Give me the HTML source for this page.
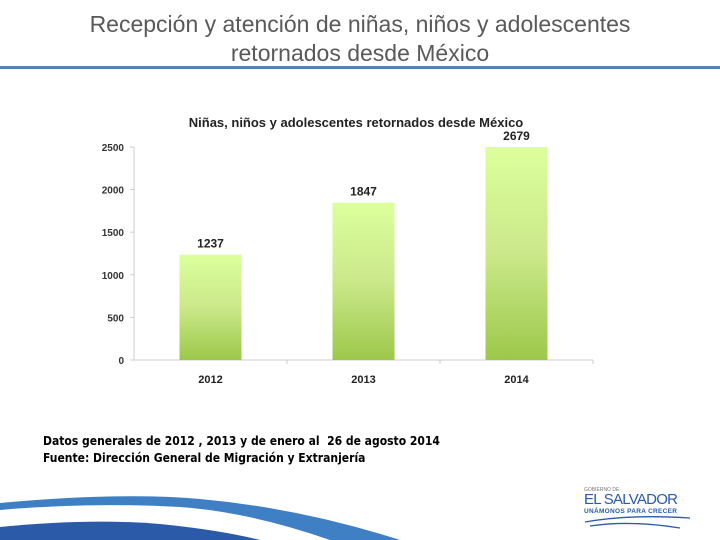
<!DOCTYPE html>
<html><head><meta charset="utf-8"><style>
body{margin:0;width:720px;height:540px;background:#fff;overflow:hidden;position:relative;font-family:"Liberation Sans",sans-serif}
#title{position:absolute;left:0;top:10px;width:720px;text-align:center;font-size:23px;line-height:29px;color:#595959}
#rule{position:absolute;left:0;top:66px;width:720px;height:3px;background:#5a7fb0}
#note{position:absolute;left:43px;top:433px;font-size:12px;line-height:17px;color:#000;font-weight:bold;font-family:"Liberation Sans Narrow","DejaVu Sans Condensed","Liberation Sans",sans-serif}
</style></head><body>
<div id="title">Recepción y atención de niñas, niños y adolescentes<br>retornados desde México</div>
<div id="rule"></div>
<svg id="chart" width="720" height="540" style="position:absolute;left:0;top:0">
<defs><linearGradient id="g" x1="0" y1="0" x2="0" y2="1"><stop offset="0" stop-color="#dcff9c"/><stop offset="0.5" stop-color="#cbe88a"/><stop offset="1" stop-color="#9cc84a"/></linearGradient></defs>
<text x="356" y="127" text-anchor="middle" font-size="13" font-weight="bold" fill="#222">Niñas, niños y adolescentes retornados desde México</text>
<g id="axes"></g><g id="bars"></g>
</svg>
<div id="note">Datos generales de 2012 , 2013 y de enero al&nbsp; 26 de agosto 2014<br>Fuente: Dirección General de Migración y Extranjería</div>
<svg width="720" height="540" style="position:absolute;left:0;top:0">
<path d="M0 503 Q120 492 200 499 Q300 508 400 540 L330 540 Q250 512 180 507 Q90 502 0 510Z" fill="#3f7fc4"/>
<path d="M0 527 Q90 518 160 524 Q220 530 260 540 L0 540Z" fill="#2a5aa8"/>
<text x="584" y="491" font-size="5" fill="#777">GOBIERNO DE</text>
<text x="584" y="504" font-size="15" fill="#2a5aa8" textLength="94">EL SALVADOR</text>
<text x="584" y="513" font-size="6.5" font-weight="bold" fill="#2a5aa8" textLength="93">UNÁMONOS PARA CRECER</text>
<path d="M585 522 Q630 514 690 518 M590 526 Q630 520 680 528" stroke="#2a5aa8" stroke-width="1.3" fill="none"/>
</svg>
<script>
const categories=["2012","2013","2014"];
const values=[1237,1847,2679];
const ticks=[0,500,1000,1500,2000,2500];
const ns="http://www.w3.org/2000/svg";
const x0=134,x1=593,y0=360,yTop=147,yMax=2500;
const bw=(x1-x0)/categories.length;
const y=v=>y0-(Math.min(v,yMax)/yMax)*(y0-yTop);
const xc=i=>x0+bw*(i+0.5);
const axes=document.getElementById('axes'),bars=document.getElementById('bars');
function mk(t,a,p){const e=document.createElementNS(ns,t);for(const k in a)e.setAttribute(k,a[k]);p.appendChild(e);return e;}
const ya=mk('line',{x1:x0,x2:x0,y1:yTop,y2:y0,stroke:'#ccc'},axes);


const xa=mk('line',{x1:x0-4,x2:x1,y1:y0,y2:y0,stroke:'#ccc'},axes);


ticks.forEach(t=>{
  mk('line',{x1:x0-4,x2:x0,y1:y(t),y2:y(t),stroke:'#ccc'},axes);
  const l=mk('text',{x:124,y:y(t)+4,'text-anchor':'end','font-size':10,'font-weight':'bold',fill:'#333'},axes);
  l.textContent=t;
  
  
});
categories.forEach((c,i)=>{
  mk('line',{x1:x0+bw*(i+1),x2:x0+bw*(i+1),y1:y0,y2:y0+4,stroke:'#ccc'},axes);
  const b=mk('rect',{x:xc(i)-31,y:y(values[i]),width:62,height:y0-y(values[i]),fill:'url(#g)'},bars);
  
  
  const v=mk('text',{x:xc(i),y:y(values[i])-7,'text-anchor':'middle','font-size':12,'font-weight':'bold',fill:'#222'},bars);
  v.textContent=values[i];
  
  
  const cl=mk('text',{x:xc(i),y:383,'text-anchor':'middle','font-size':11,'font-weight':'bold',fill:'#222'},axes);
  cl.textContent=c;
  
  
});
</script>
</body></html>
